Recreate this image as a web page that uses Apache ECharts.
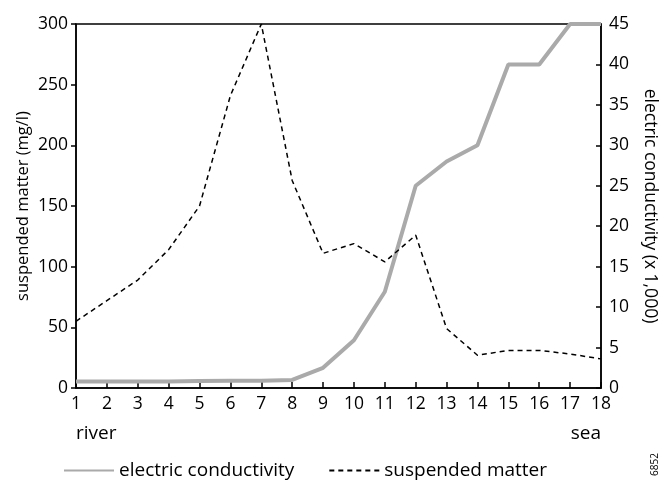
<!DOCTYPE html>
<html>
<head>
<meta charset="utf-8">
<script src="https://cdn.jsdelivr.net/npm/echarts@6/dist/echarts.min.js"></script>
<style>
  html, body { margin: 0; padding: 0; background: #fff; }
  #chart { width: 667px; height: 480px; }
</style>
</head>
<body>
<div id="chart"></div>
<script>
// stations from river (1) to sea (18)
const stations = ['1', '2', '3', '4', '5', '6', '7', '8', '9', '10', '11', '12', '13', '14', '15', '16', '17', '18']
// suspended matter, mg/l (left axis)
const suspendedMatter = [55, 72, 89, 114, 150, 241, 300, 171, 111, 119, 104, 126, 49, 27, 31, 31, 28, 24]
// electric conductivity, x 1,000 (right axis)
const conductivity = [0.8, 0.8, 0.8, 0.8, 0.85, 0.9, 0.9, 1.0, 2.5, 5.9, 11.9, 25, 28, 30, 40, 40, 45, 45]

const font = 'Open Sans'
const chart = echarts.init(document.getElementById('chart'))

chart.setOption({
  animation: false,
  textStyle: { fontFamily: font, color: '#000' },
  grid: {
    left: 76,
    right: 66,
    top: 24,
    bottom: 92,
    outerBoundsMode: 'none',
    show: true,
    borderColor: '#000',
    borderWidth: 1.5,
  },
  legend: {
    bottom: -5,
    left: 58,
    itemWidth: 50,
    itemHeight: 10,
    itemGap: 34,
    itemStyle: { opacity: 0 },
    textStyle: { fontSize: 19, fontFamily: font, color: '#000' },
    data: ['electric conductivity', 'suspended matter'],
  },
  xAxis: {
    type: 'category',
    data: stations,
    boundaryGap: false,
    axisLine: { lineStyle: { color: '#000', width: 1.5 } },
    axisTick: { inside: true, length: 6, lineStyle: { color: '#000', width: 1.5 } },
    axisLabel: { fontSize: 17.5, color: '#000', margin: 7 },
    splitLine: { show: false },
  },
  yAxis: [
    {
      type: 'value',
      min: 0,
      max: 300,
      interval: 50,
      name: 'suspended matter (mg/l)',
      nameLocation: 'middle',
      nameGap: 44,
      nameMoveOverlap: false,
      nameTextStyle: { fontSize: 16.5, color: '#000' },
      axisLine: { show: true, lineStyle: { color: '#000', width: 1.5 } },
      axisTick: { show: true, length: 5, lineStyle: { color: '#000', width: 1.5 } },
      axisLabel: { fontSize: 17.5, color: '#000', margin: 8 },
      splitLine: { show: false },
    },
    {
      type: 'value',
      min: 0,
      max: 45,
      interval: 5,
      position: 'right',
      name: 'electric conductivity (x 1,000)',
      nameLocation: 'middle',
      nameGap: 40,
      nameMoveOverlap: false,
      nameRotate: -90,
      nameTextStyle: { fontSize: 17.5, color: '#000' },
      axisLine: { show: true, lineStyle: { color: '#000', width: 1.5 } },
      axisTick: { show: true, inside: true, length: 5, lineStyle: { color: '#000', width: 1.5 } },
      axisLabel: { fontSize: 17.5, color: '#000', margin: 8 },
      splitLine: { show: false },
    },
  ],
  graphic: [
    { type: 'text', left: 76, top: 424, style: { text: 'river', fontSize: 19, fontFamily: font, fill: '#000' } },
    { type: 'text', right: 66, top: 424, style: { text: 'sea', fontSize: 19, fontFamily: font, fill: '#000' } },
    { type: 'text', x: 650, y: 476, rotation: Math.PI / 2, style: { text: '6852', fontSize: 10, fontFamily: font, fill: '#000' } },
  ],
  series: [
    {
      name: 'electric conductivity',
      type: 'line',
      yAxisIndex: 1,
      data: conductivity,
      symbol: 'none',
      lineStyle: { color: '#aaaaaa', width: 4 },
      itemStyle: { color: '#aaaaaa' },
      z: 2,
    },
    {
      name: 'suspended matter',
      type: 'line',
      yAxisIndex: 0,
      data: suspendedMatter,
      symbol: 'none',
      lineStyle: { color: '#000', width: 1.5, type: [5, 4] },
      itemStyle: { color: '#000' },
      z: 3,
    },
  ],
})
</script>
</body>
</html>
